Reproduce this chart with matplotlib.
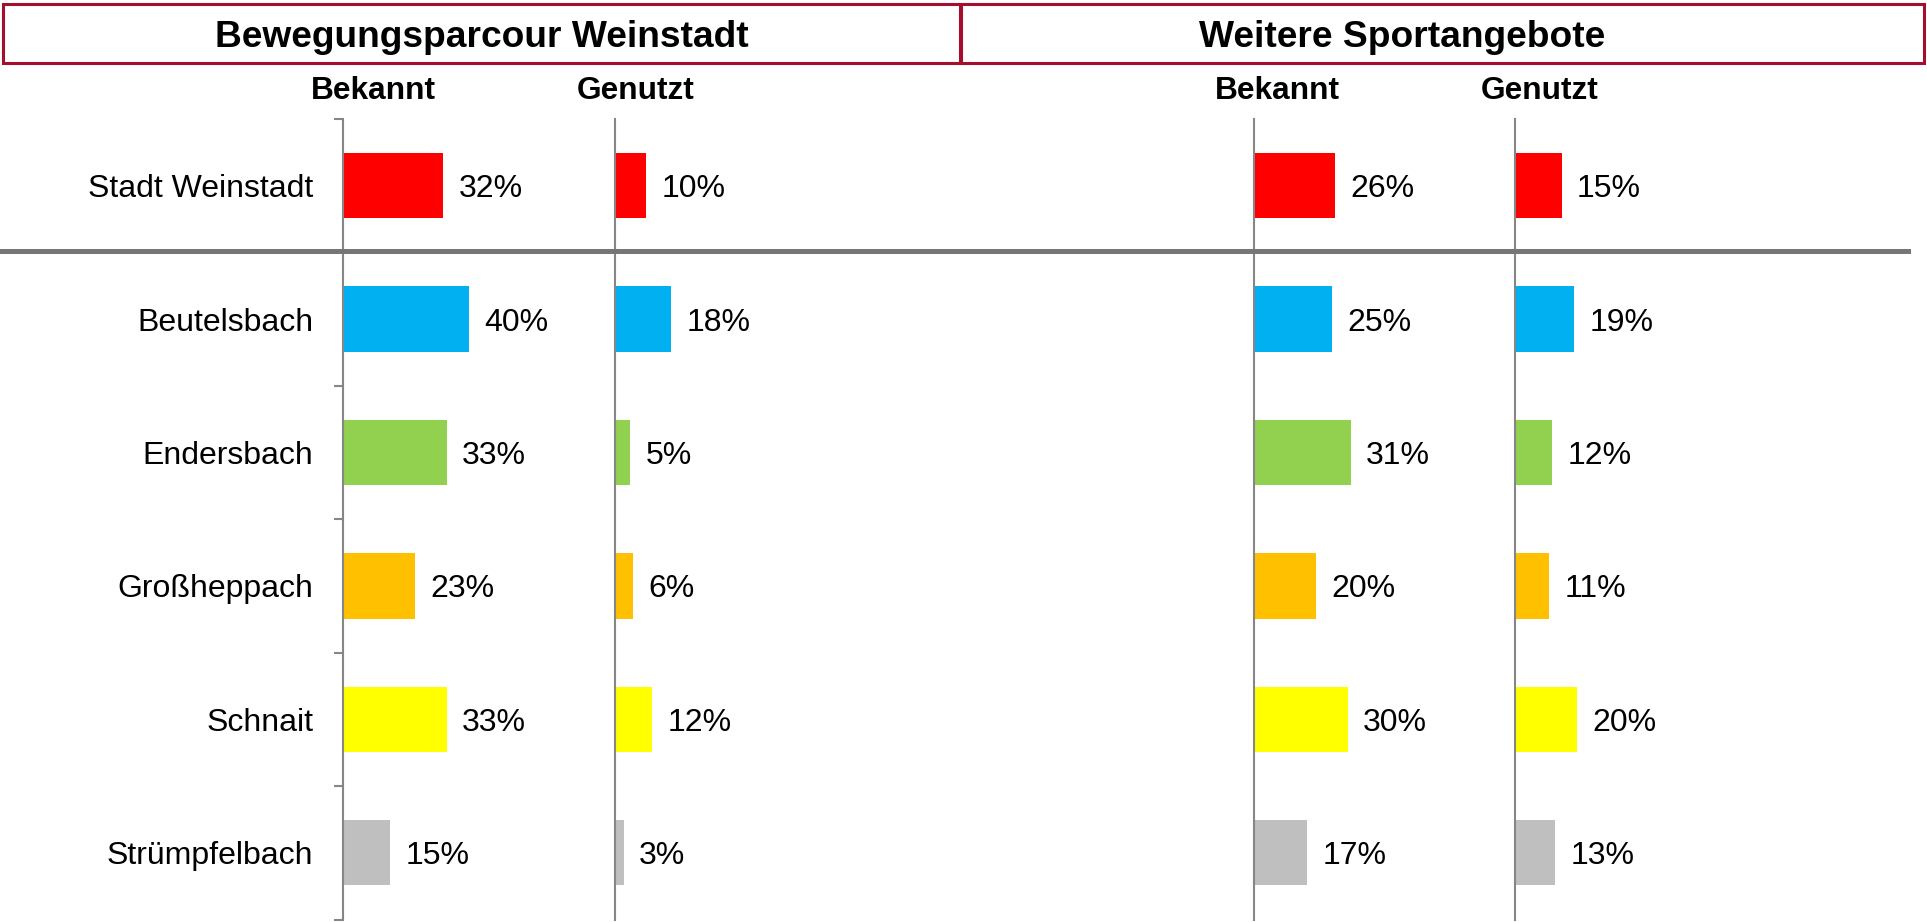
import matplotlib
matplotlib.use("Agg")
import matplotlib.pyplot as plt
from matplotlib.patches import Rectangle
from matplotlib.lines import Line2D

plt.rcParams['font.family'] = ['Liberation Sans', 'DejaVu Sans']

# Daten
orte = ['Stadt Weinstadt', 'Beutelsbach', 'Endersbach', 'Großheppach', 'Schnait', 'Strümpfelbach']
farben = ['#FF0000', '#00B0F0', '#92D050', '#FFC000', '#FFFF00', '#BFBFBF']

parcour_bekannt = [32, 40, 33, 23, 33, 15]
parcour_genutzt = [10, 18, 5, 6, 12, 3]
sport_bekannt = [26, 25, 31, 20, 30, 17]
sport_genutzt = [15, 19, 12, 11, 20, 13]

W, H = 1927, 922
fig = plt.figure(figsize=(W / 100, H / 100), dpi=100)

px_pro_prozent = 3.14
y_oben, y_unten = 119, 919.5
achsfarbe = '#868686'
schrift = 23
# Grundlinie so verschieben, dass die Ziffern mittig zum Balken stehen
versatz = -0.358 * schrift


def achse(x0, x1, werte, kategorien=False):
    ax = fig.add_axes([x0 / W, 1 - y_unten / H, (x1 - x0) / W, (y_unten - y_oben) / H])
    ax.barh(range(len(werte)), werte, height=0.49, color=farben)
    ax.set_xlim(0, (x1 - x0) / px_pro_prozent)
    ax.set_ylim(len(werte) - 0.5, -0.5)
    for s in ['top', 'right', 'bottom']:
        ax.spines[s].set_visible(False)
    ax.spines['left'].set_color(achsfarbe)
    ax.spines['left'].set_linewidth(1.5)
    ax.set_xticks([])
    ax.set_yticks([])
    if kategorien:
        ax.set_yticks([i - 0.5 for i in range(len(werte) + 1)])
        ax.set_yticklabels([])
        ax.tick_params(axis='y', length=6.5, width=1.5, color=achsfarbe)
        for i, ort in enumerate(orte):
            ax.annotate(ort, (0, i), xytext=(-21.5, versatz), textcoords='offset points',
                        xycoords=('axes fraction', 'data'),
                        va='baseline', ha='right', fontsize=schrift)
    for i, v in enumerate(werte):
        ax.annotate(f'{v}%', (v, i), xytext=(11, versatz), textcoords='offset points',
                    va='baseline', ha='left', fontsize=schrift)
    return ax


achse(343, 614, parcour_bekannt, kategorien=True)
achse(614.5, 961, parcour_genutzt)
achse(1253.5, 1514.5, sport_bekannt)
achse(1514.5, 1900, sport_genutzt)

# Trennlinie unter Stadt Weinstadt
fig.add_artist(Line2D([0, 1908 / W], [1 - 251 / H, 1 - 251 / H],
                      color='#767676', linewidth=3.6, transform=fig.transFigure))

# Titelkaesten
rot = '#A50F2D'
for x0, x1 in [(2.5, 960), (961, 1924)]:
    fig.add_artist(Rectangle((x0 / W, 1 - 63.5 / H), (x1 - x0) / W, 59 / H,
                             transform=fig.transFigure, fill=False,
                             edgecolor=rot, linewidth=2.2))

fig.text(482 / W, 1 - 47 / H, 'Bewegungsparcour Weinstadt', ha='center', va='baseline',
         fontsize=26.7, fontweight='bold')
fig.text(1402 / W, 1 - 47 / H, 'Weitere Sportangebote', ha='center', va='baseline',
         fontsize=26.7, fontweight='bold')

for x, t in [(373, 'Bekannt'), (636, 'Genutzt'), (1277, 'Bekannt'), (1540, 'Genutzt')]:
    fig.text(x / W, 1 - 99 / H, t, ha='center', va='baseline', fontsize=22.8, fontweight='bold')

fig.savefig('out.png', dpi=100)
